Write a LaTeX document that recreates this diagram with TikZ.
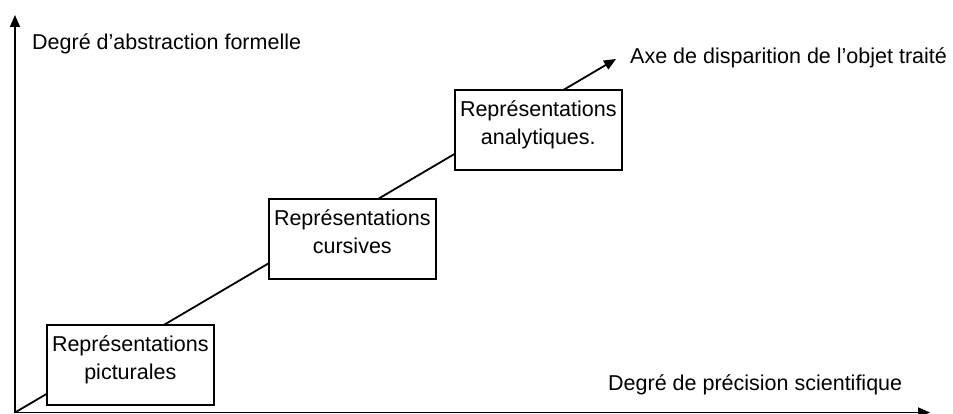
\documentclass[tikz,border=0pt]{standalone}
\usepackage{fontspec}
\setmainfont{Liberation Sans}
\usetikzlibrary{arrows.meta}

\tikzset{
  repbox/.style={draw, line width=1.6pt, fill=white, inner sep=0pt, text width=167pt, align=center,
    text height=27pt, text depth=53pt, font=\fontsize{21.5}{27.5}\selectfont},
  axe/.style={line width=1.8pt, -{Triangle[length=12pt, width=10pt]}},
  etiquette/.style={inner sep=0pt, anchor=base west, font=\fontsize{21.5}{26}\selectfont}
}

\begin{document}
\begin{tikzpicture}[x=1pt, y=-1pt]
  \useasboundingbox (0,0) rectangle (953,414);
  % axes
  \coordinate (origine) at (15,412.5);
  \coordinate (haut) at (15,15);
  \coordinate (droite) at (930,412.5);
  \coordinate (disparition) at (616,59);
  \draw[axe] (origine) -- (haut);
  \draw[axe] (origine) -- (droite);
  \draw[axe] (origine) -- (disparition);

  % types de representations
  \node[repbox, anchor=north west] (picturales) at (46,324) {Représentations\\picturales};
  \node[repbox, anchor=north west] (cursives) at (268,198) {Représentations\\cursives};
  \node[repbox, anchor=north west] (analytiques) at (454,89) {Représentations\\analytiques.};

  % titres des axes
  \node[etiquette] (abstraction) at (32,50) {Degré d’abstraction formelle};
  \node[etiquette] (objet) at (630,64) {Axe de disparition de l’objet traité};
  \node[etiquette] (precision) at (608,390) {Degré de précision scientifique};
\end{tikzpicture}
\end{document}
